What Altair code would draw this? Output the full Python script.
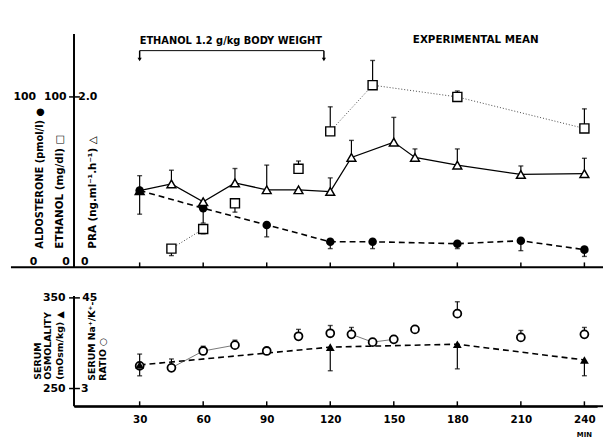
import altair as alt
import pandas as pd

# ---------------- data ----------------
ticks_min = [30, 60, 90, 120, 150, 180, 210, 240]

# Aldosterone (pmol/l) - filled circles, dashed line
ald_min = [30, 60, 90, 120, 140, 180, 210, 240]
ald_val = [45.1, 34.7, 24.9, 15.0, 15.0, 13.9, 15.6, 10.4]
ald_err_lo = [31.2, 26.0, 17.9, 11.0, 11.0, 11.0, 9.8, 6.4]
ald_err_hi = [53.8, None, None, None, None, None, None, None]

# PRA (ng/ml/h) - open triangles, solid line
pra_min = [30, 45, 60, 75, 90, 105, 120, 130, 150, 160, 180, 210, 240]
pra_val = [0.90, 0.98, 0.77, 0.99, 0.91, 0.91, 0.89, 1.29, 1.47, 1.29, 1.20, 1.09, 1.10]
pra_err_hi = [None, 1.14, None, 1.16, 1.20, None, 1.05, 1.49, 1.76, 1.39, 1.39, 1.19, 1.28]

# Ethanol (mg/dl) - open squares, dotted line
eth_min = [45, 60, 75, 105, 120, 140, 180, 240]
eth_val = [11.0, 22.5, 37.6, 57.8, 79.8, 106.9, 100.0, 81.5]
eth_err_lo = [6.9, 19.7, 32.4, None, None, None, None, None]
eth_err_hi = [None, None, None, 62.4, 94.2, 121.4, 103.5, 93.0]
eth_seg = [1, 1, 2, 3, 4, 4, 4, 4]

# Serum osmolality (mOsm/kg) - filled triangles, dashed line
osm_min = [30, 120, 180, 240]
osm_val = [276.0, 295.7, 298.9, 281.5]
osm_err_lo = [264.0, 269.6, 271.7, 264.1]
osm_err_hi = [288.0, None, None, None]

# Serum Na+/K+ ratio - open circles
nak_min = [30, 45, 60, 75, 90, 105, 120, 130, 140, 150, 160, 180, 210, 240]
nak_val = [13.5, 12.6, 20.4, 23.1, 20.4, 27.2, 28.6, 28.1, 24.5, 25.8, 30.4, 37.7, 26.7, 28.1]
nak_err_hi = [None, 16.7, 22.6, 25.4, None, 30.4, 32.2, 31.3, None, 27.5, None, 43.2, 29.9, 31.3]
nak_seg = [0, 1, 1, 1, 2, 3, 4, 5, 5, 5, 6, 7, 8, 9]

# ---------------- layout constants ----------------
W = 531
HT = 237
HB = 112
FONT = "DejaVu Sans"
BLACK = "black"

xs = alt.Scale(domain=[-1, 246], nice=False, zero=False)
ys_top = alt.Scale(domain=[0, 137], nice=False, zero=False)
ys_pra = alt.Scale(domain=[0, 2.74], nice=False, zero=False)
ys_osm = alt.Scale(domain=[230.4, 352.2], nice=False, zero=False)
ys_nak = alt.Scale(domain=[-5.2, 45.9], nice=False, zero=False)

one = pd.DataFrame({"a": [0]})


def err_df(mins, vals, ends):
    rows = [(m, v, e) for m, v, e in zip(mins, vals, ends) if e is not None]
    return pd.DataFrame(rows, columns=["m", "v", "e"])


def errbars(df, ys, X):
    rule = alt.Chart(df).mark_rule(color=BLACK, strokeWidth=1.2).encode(
        x=X, y=alt.Y("v:Q", scale=ys, axis=None), y2="e:Q")
    cap = alt.Chart(df).mark_tick(orient="horizontal", size=5, thickness=1.4, color=BLACK).encode(
        x=X, y=alt.Y("e:Q", scale=ys, axis=None))
    return [rule, cap]


def txt(text, x, y, size=11, angle=0, align="center", baseline="middle"):
    return alt.Chart(one).mark_text(
        text=text, font=FONT, fontWeight="bold", fontSize=size, angle=angle,
        align=align, baseline=baseline, color=BLACK
    ).encode(x=alt.value(x), y=alt.value(y))


def hrule(x1, x2, y, w=2):
    return alt.Chart(one).mark_rule(color=BLACK, strokeWidth=w).encode(
        x=alt.value(x1), x2=alt.value(x2), y=alt.value(y))


def vrule(x, y1, y2, w=2):
    return alt.Chart(one).mark_rule(color=BLACK, strokeWidth=w).encode(
        x=alt.value(x), y=alt.value(y1), y2=alt.value(y2))


# ---------------- top panel ----------------
Xt = alt.X("m:Q", scale=xs, axis=None)

ald = pd.DataFrame({"m": ald_min, "v": ald_val})
pra = pd.DataFrame({"m": pra_min, "v": pra_val})
eth = pd.DataFrame({"m": eth_min, "v": eth_val, "seg": eth_seg})
tk = pd.DataFrame({"m": ticks_min})

top_layers = []
top_layers += errbars(err_df(ald_min, ald_val, ald_err_lo), ys_top, Xt)
top_layers += errbars(err_df(ald_min, ald_val, ald_err_hi), ys_top, Xt)
top_layers += errbars(err_df(pra_min, pra_val, pra_err_hi), ys_pra, Xt)
top_layers += errbars(err_df(eth_min, eth_val, eth_err_lo), ys_top, Xt)
top_layers += errbars(err_df(eth_min, eth_val, eth_err_hi), ys_top, Xt)

top_layers += [
    alt.Chart(eth).mark_line(color="#444", strokeWidth=1, strokeDash=[1, 2]).encode(
        x=Xt, y=alt.Y("v:Q", scale=ys_top, axis=None), detail="seg:N"),
    alt.Chart(ald).mark_line(color=BLACK, strokeWidth=1.6, strokeDash=[6, 4]).encode(
        x=Xt, y=alt.Y("v:Q", scale=ys_top, axis=None)),
    alt.Chart(pra).mark_line(color=BLACK, strokeWidth=1.3).encode(
        x=Xt, y=alt.Y("v:Q", scale=ys_pra, axis=None)),
    alt.Chart(ald).mark_point(shape="circle", filled=True, size=75, color=BLACK, opacity=1).encode(
        x=Xt, y=alt.Y("v:Q", scale=ys_top, axis=None)),
    alt.Chart(pra).mark_point(shape="triangle-up", filled=True, size=80, stroke=BLACK,
                              strokeWidth=1.5, opacity=1).encode(
        x=Xt, y=alt.Y("v:Q", scale=ys_pra, axis=None),
        fill=alt.condition("datum.m == 30", alt.value(BLACK), alt.value("white"))),
    alt.Chart(eth).mark_point(shape="square", filled=True, fill="white", size=85, stroke=BLACK,
                              strokeWidth=1.4, opacity=1).encode(
        x=Xt, y=alt.Y("v:Q", scale=ys_top, axis=None)),
    # axes
    hrule(-64, W + 6, HT),
    vrule(0, 0, HT),
    alt.Chart(tk).mark_rule(color=BLACK, strokeWidth=1.5).encode(
        x=Xt, y=alt.value(HT - 5), y2=alt.value(HT)),
    hrule(-5, 6, 64, 1.5),
    # axis labels
    txt("100", -50, 64), txt("100", -19, 64), txt("2.0", 14, 64),
    txt("0", -41, 232), txt("0", -8, 232), txt("0", 11, 232),
    txt("ALDOSTERONE (pmol/l) ●", -34, 218, size=10, angle=270, align="left"),
    txt("ETHANOL (mg/dl) □", -14, 218, size=10.5, angle=270, align="left"),
    txt("PRA (ng.ml⁻¹.h⁻¹) △", 19, 218, size=10.5, angle=270, align="left"),
    # annotations
    alt.Chart(pd.DataFrame({"m": [30]})).mark_text(
        text="ETHANOL 1.2 g/kg BODY WEIGHT", font=FONT, fontWeight="bold", fontSize=10,
        align="left", baseline="middle", color=BLACK).encode(x=Xt, y=alt.value(7)),
    alt.Chart(pd.DataFrame({"m": [30], "m2": [117]})).mark_rule(color=BLACK, strokeWidth=1).encode(
        x=Xt, x2="m2:Q", y=alt.value(17)),
    alt.Chart(pd.DataFrame({"m": [30, 117]})).mark_rule(color=BLACK, strokeWidth=1.5).encode(
        x=Xt, y=alt.value(17), y2=alt.value(26)),
    alt.Chart(pd.DataFrame({"m": [30, 117]})).mark_point(shape="triangle-down", filled=True, size=18,
                                                           color=BLACK, opacity=1).encode(
        x=Xt, y=alt.value(26)),
    alt.Chart(pd.DataFrame({"m": [159]})).mark_text(
        text="EXPERIMENTAL MEAN", font=FONT, fontWeight="bold", fontSize=10.5,
        align="left", baseline="middle", color=BLACK).encode(x=Xt, y=alt.value(6)),
]

top = alt.layer(*top_layers).resolve_scale(y="independent").properties(width=W, height=HT)

# ---------------- bottom panel ----------------
bax = alt.Axis(values=ticks_min, ticks=False, domain=True, domainWidth=2, domainColor=BLACK,
               labelFont=FONT, labelFontSize=10.5, labelFontWeight="bold", labelColor=BLACK,
               labelPadding=8, grid=False, title=None, labelFlush=False)
Xb = alt.X("m:Q", scale=xs, axis=bax)

osm = pd.DataFrame({"m": osm_min, "v": osm_val})
nak = pd.DataFrame({"m": nak_min, "v": nak_val, "seg": nak_seg})

bot_layers = []
bot_layers += errbars(err_df(osm_min, osm_val, osm_err_lo), ys_osm, Xb)
bot_layers += errbars(err_df(osm_min, osm_val, osm_err_hi), ys_osm, Xb)
bot_layers += errbars(err_df(nak_min, nak_val, nak_err_hi), ys_nak, Xb)
bot_layers += [
    alt.Chart(nak).mark_line(color="#555", strokeWidth=0.8).encode(
        x=Xb, y=alt.Y("v:Q", scale=ys_nak, axis=None), detail="seg:N"),
    alt.Chart(osm).mark_line(color=BLACK, strokeWidth=1.6, strokeDash=[6, 4]).encode(
        x=Xb, y=alt.Y("v:Q", scale=ys_osm, axis=None)),
    alt.Chart(nak).mark_point(shape="circle", filled=True, fill="white", size=65, stroke=BLACK,
                              strokeWidth=1.8, opacity=1).encode(
        x=Xb, y=alt.Y("v:Q", scale=ys_nak, axis=None)),
    alt.Chart(osm).mark_point(shape="triangle-up", filled=True, size=80, color=BLACK, opacity=1).encode(
        x=Xb, y=alt.Y("v:Q", scale=ys_osm, axis=None)),
    hrule(0, W + 6, HB),
    vrule(0, 0, HB),
    alt.Chart(tk).mark_rule(color=BLACK, strokeWidth=1.5).encode(
        x=Xb, y=alt.value(HB - 5), y2=alt.value(HB)),
    hrule(-5, 6, 2, 1.5), hrule(-5, 6, 94, 1.5), vrule(0, 90, 98, 1.5),
    txt("350", -20, 2), txt("45", 16, 2), txt("250", -20, 95), txt("3", 11, 95),
    txt("SERUM", -37, 85, size=9.5, angle=270, align="left"),
    txt("OSMOLALITY", -26, 85, size=9.5, angle=270, align="left"),
    txt("(mOsm/kg) ▲", -14, 85, size=9.5, angle=270, align="left"),
    txt("SERUM Na⁺/K⁺-", 18, 86, size=9.5, angle=270, align="left"),
    txt("RATIO ○", 29, 86, size=9.5, angle=270, align="left"),
    alt.Chart(pd.DataFrame({"m": [240]})).mark_text(
        text="MIN", font=FONT, fontWeight="bold", fontSize=7, align="center",
        baseline="middle", color=BLACK).encode(x=Xb, y=alt.value(HB + 29)),
]

bottom = alt.layer(*bot_layers).resolve_scale(y="independent").properties(width=W, height=HB)

chart = alt.vconcat(top, bottom, spacing=29, bounds="flush").properties(
    padding={"left": 2, "top": 22, "right": 0, "bottom": 0},
    background="white",
).configure_view(stroke=None)

chart.save("out.html", embed_options={"renderer": "svg", "actions": False})
